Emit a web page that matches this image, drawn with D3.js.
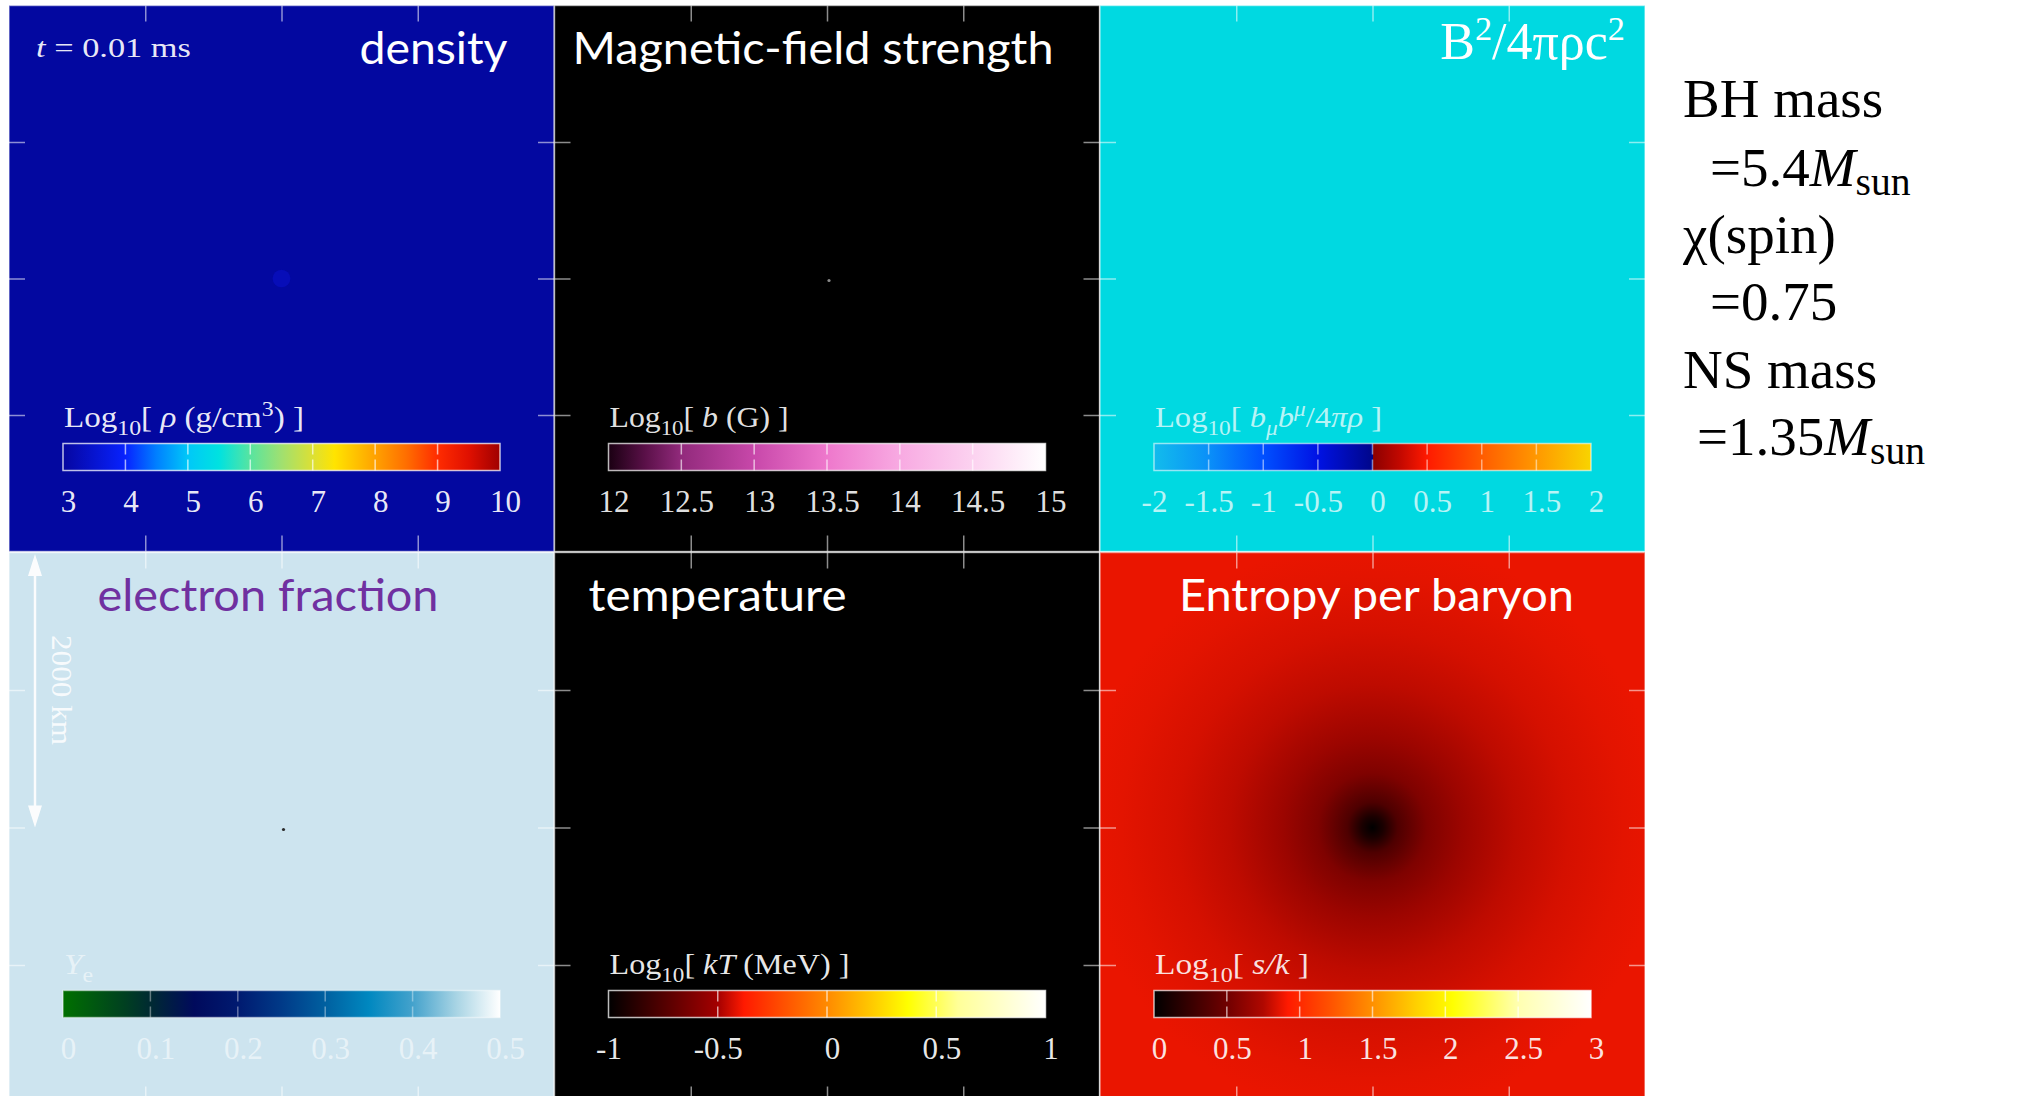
<!DOCTYPE html>
<html>
<head>
<meta charset="utf-8">
<script src="https://cdn.jsdelivr.net/npm/d3@7"></script>
<style>
  body { margin: 0; background: #ffffff; }
  svg { display: block; }
  text { white-space: pre; }
</style>
</head>
<body>
<svg width="2035" height="1096"></svg>
<script>
// Six snapshot panels of a BH-NS merger simulation at t = 0.01 ms, each with its own colour bar

// ---------- data ----------
const panelTitles = ["density", "Magnetic-field strength", "B2/4πρc2", "electron fraction", "temperature", "Entropy per baryon"];

// colour bar tick values (these are also the segment dividers)
const densityTicks = [3, 4, 5, 6, 7, 8, 9, 10];
const fieldTicks = [12, 12.5, 13, 13.5, 14, 14.5, 15];
const ratioTicks = [-2, -1.5, -1, -0.5, 0, 0.5, 1, 1.5, 2];
const yeTicks = [0, 0.1, 0.2, 0.3, 0.4, 0.5];
const tempTicks = [-1, -0.5, 0, 0.5, 1];
const entropyTicks = [0, 0.5, 1, 1.5, 2, 2.5, 3];

// colour maps (value stops + colours)
const densityStops = [3, 4, 4.5, 5, 5.5, 6, 6.5, 7, 7.35, 8, 8.5, 9, 9.5, 10];
const densityColors = ["#0606a0", "#0822ff", "#0080ff", "#00c8f8", "#00e2e0", "#58e4a0", "#a0e070", "#dce034", "#ffe400", "#ffa200", "#ff6e00", "#ff2c00", "#e01000", "#a00000"];
const fieldStops = [12, 12.25, 12.5, 13, 13.5, 14, 14.5, 15];
const fieldColors = ["#1a0012", "#5a1048", "#922a7c", "#c848aa", "#ee78cc", "#f8aae2", "#fcd2f0", "#ffffff"];
const ratioStops = [-2, -1.5, -1, -0.5, 0, 0, 0.25, 0.5, 1, 1.5, 2];
const ratioColors = ["#12bcec", "#0a90f8", "#0050ff", "#0012e4", "#00068a", "#8a0000", "#c20800", "#ff1a00", "#ff5c00", "#ff9800", "#f8d400"];
const yeStops = [0, 0.07, 0.1, 0.15, 0.2, 0.25, 0.3, 0.35, 0.4, 0.45, 0.5];
const yeColors = ["#007000", "#004020", "#002a32", "#000a5c", "#001a70", "#003a88", "#0060a0", "#0088c0", "#44a2cc", "#a8d4e4", "#ffffff"];
const tempStops = [-1, -0.5, -0.38, -0.2, 0, 0.2, 0.37, 0.6, 1];
const tempColors = ["#000000", "#a40000", "#ff1a00", "#ff5000", "#ff8a00", "#ffc800", "#ffff00", "#ffff98", "#ffffff"];
const entropyStops = [0, 0.5, 0.75, 0.92, 1.2, 1.5, 1.8, 2.05, 2.5, 3];
const entropyColors = ["#000000", "#700000", "#b00800", "#ff1a00", "#ff5000", "#ff9000", "#ffd000", "#ffff00", "#ffffb0", "#ffffff"];

// radial entropy profile around the black hole (km -> log10 s/k)
const entropyRadiusKm = [0, 80, 185, 400, 660, 1050, 1440, 1840, 2130, 2940];
const entropyProfile = [0, 0.12, 0.35, 0.56, 0.67, 0.78, 0.83, 0.86, 0.875, 0.875];

// faint central density bump
const densityCoreKm = 65;
const densityCoreValue = 3.25;

// spatial frame (km), ticks every 1000 km, and the 2000 km scale bar
const frameDomainKm = [-2000, 2000];
const frameTicksKm = [-1000, 0, 1000];
const scaleBarKm = [2000, 0];
const scaleBarLabel = "2000 km";
const timeLabel = [{ t: "t", i: true }, { t: " = 0.01 ms" }];

// colour bar titles
const barLabels = [
  [{ t: "Log" }, { t: "10", sub: true }, { t: "[ " }, { t: "ρ", i: true }, { t: " (g/cm" }, { t: "3", sup: true }, { t: ") ]" }],
  [{ t: "Log" }, { t: "10", sub: true }, { t: "[ " }, { t: "b", i: true }, { t: " (G) ]" }],
  [{ t: "Log" }, { t: "10", sub: true }, { t: "[ " }, { t: "b", i: true }, { t: "μ", i: true, sub: true }, { t: "b", i: true }, { t: "μ", i: true, sup: true }, { t: "/4" }, { t: "πρ", i: true }, { t: " ]" }],
  [{ t: "Y", i: true }, { t: "e", sub: true }],
  [{ t: "Log" }, { t: "10", sub: true }, { t: "[ " }, { t: "kT", i: true }, { t: " (MeV) ]" }],
  [{ t: "Log" }, { t: "10", sub: true }, { t: "[ " }, { t: "s/k", i: true }, { t: " ]" }]
];

// binary parameters on the right
const infoLines = [
  [{ t: "BH mass" }],
  [{ t: "=5.4" }, { t: "M", i: true }, { t: "sun", sub: true }],
  [{ t: "χ(spin)" }],
  [{ t: "=0.75" }],
  [{ t: "NS mass" }],
  [{ t: "=1.35" }, { t: "M", i: true }, { t: "sun", sub: true }]
];

// ---------- layout ----------
const serif = "'Liberation Serif', 'DejaVu Serif', serif";
const sans = "Lato, 'Open Sans', sans-serif";
const colX = [9, 554.5, 1100];
const rowY = [5.5, 552.5];
const rowH = [546, 550];
const panelW = 545;
const barX = 54, barW = 437, barH = 27, barTop = 438;
const barTitleY = 421.5, labelBaseY = 506.5, labelSize = 31, barTitleSize = 30;
const barTitleWidth = [240, 179, 227, 29, 240, 154];
const titleX = [498.5, 18, 525, 88.5, 34, 79];
const titleAnchor = ["end", "start", "end", "start", "start", "start"];
const titleWidth = [148, 481, null, 341, 258, 395];
const infoX = [1683, 1710, 1683, 1710, 1683, 1697];
const infoY = [117, 186, 253, 320, 388, 455];

const panels = [
  { ticks: densityTicks, stops: densityStops, colors: densityColors, bg: "#0308a0", ink: 0.93, titleColor: "#ffffff" },
  { ticks: fieldTicks, stops: fieldStops, colors: fieldColors, bg: "#000000", ink: 0.9, titleColor: "#ffffff" },
  { ticks: ratioTicks, stops: ratioStops, colors: ratioColors, bg: "#00d9e1", ink: 0.72, titleColor: "#ffffff" },
  { ticks: yeTicks, stops: yeStops, colors: yeColors, bg: "#cde4ef", ink: 0.55, titleColor: "#7030a0" },
  { ticks: tempTicks, stops: tempStops, colors: tempColors, bg: "#000000", ink: 0.92, titleColor: "#ffffff" },
  { ticks: entropyTicks, stops: entropyStops, colors: entropyColors, bg: "#e41700", ink: 0.88, titleColor: "#ffffff" }
];

const svg = d3.select("svg");
const defs = svg.append("defs");

// Writes a list of text parts (italic / sub / superscript) as tspans
const richText = (text, parts, size, opts = {}) => {
  const subShift = opts.sub ?? 0.28, supShift = opts.sup ?? -0.36, small = opts.small ?? 0.72;
  let offset = 0;
  parts.forEach((p) => {
    const target = p.sub ? size * subShift : p.sup ? size * supShift : 0;
    text.append("tspan")
      .attr("dy", target - offset)
      .attr("font-size", target ? size * small : size)
      .attr("font-style", p.i ? "italic" : "normal")
      .text(p.t);
    offset = target;
  });
};

// Styles the frame tick marks drawn by a d3 axis
const frameAxis = (sel) => {
  sel.select(".domain").remove();
  sel.selectAll("text").remove();
  sel.selectAll("line").attr("stroke", "#ffffff").attr("stroke-opacity", 0.55).attr("stroke-width", 1.5);
};

panels.forEach((p, i) => {
  const col = i % 3, row = Math.floor(i / 3);
  const w = panelW, h = rowH[row];
  const g = svg.append("g").attr("transform", `translate(${colX[col]},${rowY[row]})`);

  // km scales for the spatial frame
  const xKm = d3.scaleLinear().domain(frameDomainKm).range([0, w]);
  const yKm = d3.scaleLinear().domain(frameDomainKm).range([h, 0]);
  const rKm = d3.scaleLinear().domain([0, frameDomainKm[1]]).range([0, w / 2]);

  g.append("rect").attr("width", w).attr("height", h).attr("fill", p.bg);

  const colorOf = d3.scaleLinear().domain(p.stops).range(p.colors).clamp(true);

  // entropy panel: radial profile around the centre
  if (i === 5) {
    const glow = defs.append("radialGradient")
      .attr("id", "entropyGlow")
      .attr("gradientUnits", "userSpaceOnUse")
      .attr("cx", xKm(0)).attr("cy", yKm(0))
      .attr("r", rKm(d3.max(entropyRadiusKm)));
    glow.selectAll("stop")
      .data(entropyRadiusKm)
      .join("stop")
      .attr("offset", (d) => d / d3.max(entropyRadiusKm))
      .attr("stop-color", (d, j) => colorOf(entropyProfile[j]));
    g.append("rect").attr("width", w).attr("height", h).attr("fill", "url(#entropyGlow)");
  }

  // small features at the black hole position
  if (i === 0) {
    g.append("circle").attr("cx", xKm(0)).attr("cy", yKm(0)).attr("r", rKm(densityCoreKm))
      .attr("fill", colorOf(densityCoreValue));
  }
  if (i === 1 || i === 3) {
    g.append("circle").attr("cx", xKm(0) + 2).attr("cy", yKm(0) + 2).attr("r", 1.6)
      .attr("fill", i === 1 ? "#8a8a8a" : "#2a2a2a");
  }

  // frame ticks on all four sides
  g.append("g").call(d3.axisTop(xKm).tickValues(frameTicksKm).tickSize(-16)).call(frameAxis);
  g.append("g").attr("transform", `translate(0,${h})`)
    .call(d3.axisBottom(xKm).tickValues(frameTicksKm).tickSize(-16)).call(frameAxis);
  g.append("g").call(d3.axisLeft(yKm).tickValues(frameTicksKm).tickSize(-16)).call(frameAxis);
  g.append("g").attr("transform", `translate(${w},0)`)
    .call(d3.axisRight(yKm).tickValues(frameTicksKm).tickSize(-16)).call(frameAxis);

  // colour bar
  const extent = d3.extent(p.ticks);
  const cScale = d3.scaleLinear().domain(extent).range([barX, barX + barW]);
  const offset = d3.scaleLinear().domain(extent).range([0, 100]);

  const grad = defs.append("linearGradient").attr("id", `bar${i}`);
  grad.selectAll("stop")
    .data(p.stops)
    .join("stop")
    .attr("offset", (d) => offset(d) + "%")
    .attr("stop-color", (d, j) => p.colors[j]);

  g.append("rect")
    .attr("x", barX).attr("y", barTop).attr("width", barW).attr("height", barH)
    .attr("fill", `url(#bar${i})`)
    .attr("stroke", "#ffffff").attr("stroke-opacity", p.ink * 0.8).attr("stroke-width", 1.5);

  // segment dividers at the inner ticks
  g.selectAll(".divider")
    .data(p.ticks.slice(1, -1))
    .join("line")
    .attr("x1", (d) => cScale(d)).attr("x2", (d) => cScale(d))
    .attr("y1", barTop).attr("y2", barTop + barH)
    .attr("stroke", "#ffffff").attr("stroke-opacity", p.ink * 0.7).attr("stroke-width", 1.5)
    .attr("stroke-dasharray", "11,5,11");

  // tick labels under the bar
  const labelAxis = g.append("g")
    .attr("transform", `translate(0,${barTop + barH})`)
    .call(d3.axisBottom(cScale).tickValues(p.ticks).tickSize(0)
      .tickPadding(labelBaseY - (barTop + barH) - 0.71 * labelSize)
      .tickFormat((d) => String(d)));
  labelAxis.select(".domain").remove();
  labelAxis.attr("font-family", serif).attr("font-size", labelSize);
  labelAxis.selectAll("text")
    .attr("fill", "#ffffff").attr("fill-opacity", p.ink)
    .attr("dx", (d) => (d < 0 ? 0 : 5));

  // colour bar title
  const barTitle = g.append("text")
    .attr("x", barX + 1).attr("y", barTitleY)
    .attr("font-family", serif).attr("fill", "#ffffff").attr("fill-opacity", p.ink)
    .attr("textLength", barTitleWidth[i]).attr("lengthAdjust", "spacingAndGlyphs");
  richText(barTitle, barLabels[i], barTitleSize);

  // panel title
  if (i === 2) {
    const t = g.append("text")
      .attr("x", titleX[i]).attr("y", 53.5).attr("text-anchor", "end")
      .attr("font-family", serif).attr("fill", p.titleColor);
    richText(t, [{ t: "B" }, { t: "2", sup: true }, { t: "/4πρc" }, { t: "2", sup: true }], 52, { sup: -0.37, small: 0.66 });
  } else {
    g.append("text")
      .attr("x", titleX[i]).attr("y", 58.5)
      .attr("text-anchor", titleAnchor[i])
      .attr("font-family", sans).attr("font-size", 44)
      .attr("fill", p.titleColor)
      .attr("textLength", titleWidth[i]).attr("lengthAdjust", "spacingAndGlyphs")
      .text(panelTitles[i]);
  }

  // time stamp in the first panel
  if (i === 0) {
    const t = g.append("text").attr("x", 27).attr("y", 51.5)
      .attr("font-family", serif).attr("fill", "#ffffff").attr("fill-opacity", 0.93)
      .attr("textLength", 155).attr("lengthAdjust", "spacingAndGlyphs");
    richText(t, timeLabel, 27);
  }

  // 2000 km scale bar in the electron-fraction panel
  if (i === 3) {
    const ax = 26, y1 = yKm(scaleBarKm[0]) + 1.5, y2 = yKm(scaleBarKm[1]);
    const arrow = g.append("g").attr("fill", "#ffffff").attr("stroke", "#ffffff").attr("opacity", 0.92);
    arrow.append("line").attr("x1", ax).attr("x2", ax).attr("y1", y1 + 18).attr("y2", y2 - 18)
      .attr("stroke-width", 2.5);
    arrow.append("path").attr("stroke", "none")
      .attr("d", `M${ax},${y1} L${ax - 7},${y1 + 22} L${ax + 7},${y1 + 22} Z`);
    arrow.append("path").attr("stroke", "none")
      .attr("d", `M${ax},${y2} L${ax - 7},${y2 - 22} L${ax + 7},${y2 - 22} Z`);
    g.append("text")
      .attr("transform", `translate(43,${yKm((scaleBarKm[0] + scaleBarKm[1]) / 2)}) rotate(90)`)
      .attr("text-anchor", "middle")
      .attr("font-family", serif).attr("font-size", 29)
      .attr("fill", "#ffffff").attr("fill-opacity", 0.85)
      .attr("textLength", 110).attr("lengthAdjust", "spacingAndGlyphs")
      .text(scaleBarLabel);
  }

  // thin panel border
  g.append("rect").attr("width", w).attr("height", h).attr("fill", "none")
    .attr("stroke", "#ffffff").attr("stroke-opacity", 0.5).attr("stroke-width", 1.5);
});

// binary parameters, right of the panels
infoLines.forEach((line, k) => {
  const t = svg.append("text")
    .attr("x", infoX[k]).attr("y", infoY[k])
    .attr("font-family", "'Liberation Serif', 'Times New Roman', serif")
    .attr("fill", "#000000");
  richText(t, line, 55, { sub: 0.17, small: 0.72 });
});
</script>
</body>
</html>
